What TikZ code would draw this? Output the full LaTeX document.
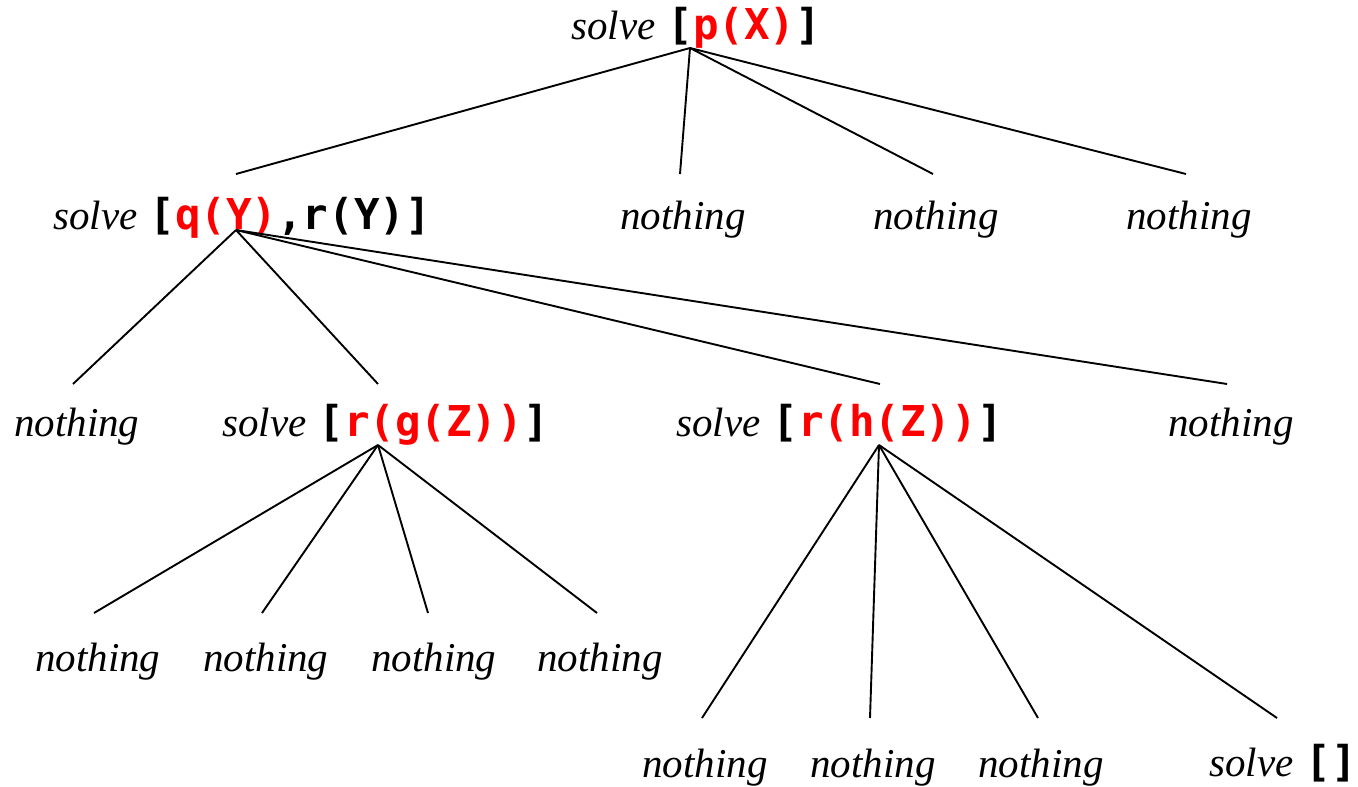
\documentclass[tikz,border=0pt]{standalone}
\usepackage{fontspec}
\setmainfont{Liberation Serif}
\newfontfamily\codefont{DejaVu Sans Mono}
\definecolor{goalred}{RGB}{255,0,0}
\newcommand{\cd}[1]{{\upshape\codefont\bfseries\fontsize{42.5}{48}\selectfont #1}}
\newcommand{\rd}[1]{\textcolor{goalred}{#1}}
\tikzset{
  lbl/.style={anchor=base west, inner sep=0pt, font=\fontsize{41}{48}\selectfont\itshape},
  edge/.style={line width=1.9pt, black}
}
\begin{document}
\begin{tikzpicture}[x=1pt,y=-1pt]
\useasboundingbox (0,0) rectangle (1358,787);
% nodes
\node[lbl] (root) at (571,39) {solve\hspace{12pt}\cd{[\rd{p(X)}]}};
\node[lbl] (q) at (53,229) {solve\hspace{12pt}\cd{[\rd{q(Y)},r(Y)]}};
\node[lbl] (n1) at (620,229) {nothing};
\node[lbl] (n2) at (873,229) {nothing};
\node[lbl] (n3) at (1126,229) {nothing};
\node[lbl] (n4) at (14,436) {nothing};
\node[lbl] (g) at (222,436) {solve\hspace{12pt}\cd{[\rd{r(g(Z))}]}};
\node[lbl] (h) at (676,436) {solve\hspace{12pt}\cd{[\rd{r(h(Z))}]}};
\node[lbl] (n5) at (1168,436) {nothing};
\node[lbl] (n6) at (35,671) {nothing};
\node[lbl] (n7) at (203,671) {nothing};
\node[lbl] (n8) at (371,671) {nothing};
\node[lbl] (n9) at (537,671) {nothing};
\node[lbl] (n10) at (642,777) {nothing};
\node[lbl] (n11) at (810,777) {nothing};
\node[lbl] (n12) at (978,777) {nothing};
\node[lbl] (e) at (1209,776) {solve\hspace{12pt}\cd{[]}};
% connection points
\coordinate (rootA) at (690,48);
\coordinate (qT) at (236,174);
\coordinate (qA) at (236,230);
\coordinate (n1T) at (680,174);
\coordinate (n2T) at (933,174);
\coordinate (n3T) at (1186,174);
\coordinate (n4T) at (73,384);
\coordinate (gT) at (378,384);
\coordinate (gA) at (378,445);
\coordinate (hT) at (880,384);
\coordinate (hA) at (879,445);
\coordinate (n5T) at (1227,384);
\coordinate (n6T) at (94,613);
\coordinate (n7T) at (262,613);
\coordinate (n8T) at (428,613);
\coordinate (n9T) at (597,613);
\coordinate (n10T) at (702,718);
\coordinate (n11T) at (870,718);
\coordinate (n12T) at (1038,718);
\coordinate (eT) at (1277,718);
% edges
\draw[edge] (rootA) -- (qT);
\draw[edge] (rootA) -- (n1T);
\draw[edge] (rootA) -- (n2T);
\draw[edge] (rootA) -- (n3T);
\draw[edge] (qA) -- (n4T);
\draw[edge] (qA) -- (gT);
\draw[edge] (qA) -- (hT);
\draw[edge] (qA) -- (n5T);
\draw[edge] (gA) -- (n6T);
\draw[edge] (gA) -- (n7T);
\draw[edge] (gA) -- (n8T);
\draw[edge] (gA) -- (n9T);
\draw[edge] (hA) -- (n10T);
\draw[edge] (hA) -- (n11T);
\draw[edge] (hA) -- (n12T);
\draw[edge] (hA) -- (eT);
\end{tikzpicture}
\end{document}
